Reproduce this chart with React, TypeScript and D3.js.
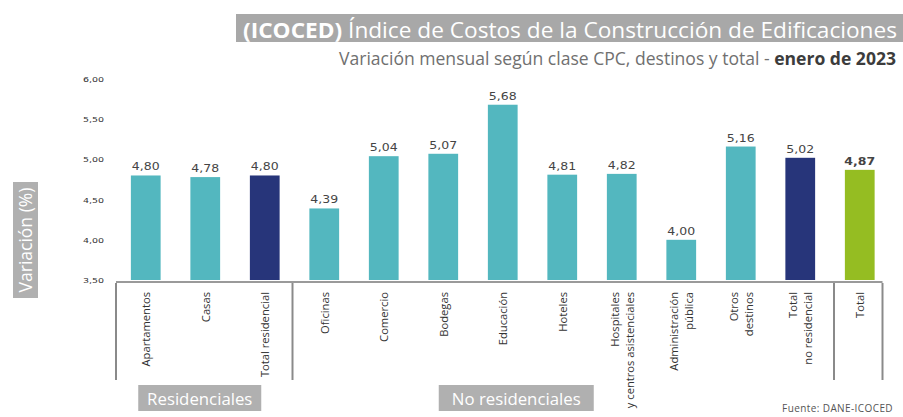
import React from 'react'
import * as d3 from 'd3'

const categories = [
  'Apartamentos',
  'Casas',
  'Total residencial',
  'Oficinas',
  'Comercio',
  'Bodegas',
  'Educación',
  'Hoteles',
  'Hospitales\ny centros asistenciales',
  'Administración\npública',
  'Otros\ndestinos',
  'Total\nno residencial',
  'Total',
]
const values = [4.8, 4.78, 4.8, 4.39, 5.04, 5.07, 5.68, 4.81, 4.82, 4.0, 5.16, 5.02, 4.87]
const kinds = ['d', 'd', 'sub', 'd', 'd', 'd', 'd', 'd', 'd', 'd', 'd', 'sub', 'total']
const yTicks = [3.5, 4.0, 4.5, 5.0, 5.5, 6.0]

const colors: Record<string, string> = { d: '#53b7bf', sub: '#27357a', total: '#95bd22' }

const W = 903
const H = 417

function App() {
  const x = d3
    .scaleBand()
    .domain(categories)
    .range([116, 116 + 13 * 59.5])
    .paddingInner(0.5)
    .paddingOuter(0.25)
  const y = d3.scaleLinear().domain([3.5, 6]).range([280, 79])
  const fmt = (v: number) => d3.format('.2f')(v).replace('.', ',')
  const cx = (c: string) => (x(c) as number) + x.bandwidth() / 2
  const step = x.step()

  const sepX = [
    116,
    cx('Total residencial') + step / 2 - 2,
    cx('Total\nno residencial') + step / 2 + 4,
    cx('Total') + step / 2 - 7,
  ]
  const axisEnd = sepX[3]

  return (
    <svg
      width={W}
      height={H}
      style={{ position: 'absolute', left: 0, top: 0, background: '#fff' }}
      fontFamily="'Open Sans', sans-serif"
    >
      {/* titulo */}
      <rect x={236} y={14} width={W - 236} height={28} fill="#a8a8a8" />
      <text x={243} y={37.5} fontSize={21} fill="#fff" textLength={654} lengthAdjust="spacingAndGlyphs">
        <tspan fontWeight="bold">(ICOCED)</tspan> Índice de Costos de la Construcción de Edificaciones
      </text>
      <text x={339} y={65} fontSize={17.5} fill="#707070" textLength={557} lengthAdjust="spacingAndGlyphs">
        Variación mensual según clase CPC, destinos y total -{' '}
        <tspan fontWeight="bold" fill="#3c3c3c">enero de 2023</tspan>
      </text>

      {/* eje y */}
      {yTicks.map((t) => (
        <text
          key={t}
          transform={`translate(104,${y(t) + 3}) scale(1.35,1)`}
          textAnchor="end"
          fontSize={7}
          fontFamily="'DejaVu Sans', sans-serif"
          fill="#333"
        >
          {fmt(t)}
        </text>
      ))}
      <rect x={13} y={182} width={25} height={116} fill="#b0b0b0" />
      <text
        transform="translate(31.5,240) rotate(-90)"
        textAnchor="middle"
        fontSize={17.5}
        fill="#fff"
      >
        Variación (%)
      </text>

      {/* barras */}
      {categories.map((c, i) => (
        <g key={c}>
          <rect
            x={x(c)}
            y={y(values[i])}
            width={x.bandwidth()}
            height={y(3.5) - y(values[i])}
            fill={colors[kinds[i]]}
          />
          <text
            transform={`translate(${cx(c)},${y(values[i]) - 5}) scale(1.25,1)`}
            textAnchor="middle"
            fontSize={10}
            fontFamily="'DejaVu Sans', sans-serif"
            fontWeight={kinds[i] === 'total' ? 'bold' : 'normal'}
            fill="#444"
          >
            {fmt(values[i])}
          </text>
        </g>
      ))}

      {/* linea base */}
      <line x1={116} x2={axisEnd} y1={282} y2={282} stroke="#9a9a9a" strokeWidth={2} />
      {sepX.map((sx, i) => (
        <line key={i} x1={sx} x2={sx} y1={283} y2={380} stroke="#8a8a8a" strokeWidth={2} />
      ))}

      {/* etiquetas de categorias */}
      {categories.map((c) => {
        const lines = c.split('\n')
        return (
          <g key={c} transform={`translate(${cx(c)},292) rotate(-90)`}>
            {lines.map((l, j) => (
              <text
                key={j}
                x={0}
                y={(j - (lines.length - 1) / 2) * 15 + 4.5}
                textAnchor="end"
                fontSize={11.2}
                fill="#333"
              >
                {l}
              </text>
            ))}
          </g>
        )
      })}

      {/* grupos */}
      <rect x={cx('Casas') - 67} y={385} width={123} height={26} fill="#b0b0b0" />
      <text x={cx('Casas') - 5.5} y={404.5} textAnchor="middle" fontSize={16.8} fill="#fff">
        Residenciales
      </text>
      <rect x={cx('Educación') - 64} y={385} width={155} height={26} fill="#b0b0b0" />
      <text x={cx('Educación') + 13.5} y={404.5} textAnchor="middle" fontSize={16.8} fill="#fff">
        No residenciales
      </text>

      <text x={893} y={412} textAnchor="end" fontSize={10} letterSpacing={0.4} fill="#555">
        Fuente: DANE-ICOCED
      </text>
    </svg>
  )
}

export default App
